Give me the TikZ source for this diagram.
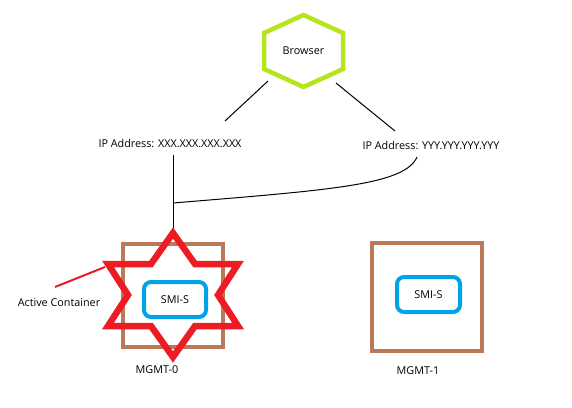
\documentclass[tikz,border=0pt]{standalone}
\usepackage{fontspec}
\setmainfont{Open Sans}
\usepackage{xcolor}
\usepackage{tikz}
\usetikzlibrary{calc, positioning}

\definecolor{BrowserGreen}{HTML}{B5E61D}
\definecolor{StarRed}{HTML}{ED1C24}
\definecolor{BoxBrown}{HTML}{B97A57}
\definecolor{SmiBlue}{HTML}{00A2E8}

\begin{document}
\begin{tikzpicture}[x=1pt, y=-1pt,
        every node/.style={font=\fontsize{10.8}{12}\selectfont, inner sep=0pt},
        mgmtbox/.style={draw=BoxBrown, line width=4.3pt},
        smibox/.style={draw=SmiBlue, line width=4pt, rounded corners=7pt, minimum width=62pt, minimum height=35pt}]

            \useasboundingbox (0,0) rectangle (572,407);

            % browser
            \draw[BrowserGreen, line width=4.5pt] (303.5,15) -- (343,33) -- (343,69) -- (303.5,87) -- (264,69) -- (264,33) -- cycle;
            \node (browser) at (303.5,51) {Browser};

            \node (ipx) at (170,143) {IP Address: XXX.XXX.XXX.XXX};
            \node (ipy) at (431,145) {IP Address: YYY.YYY.YYY.YYY};

            \coordinate (bl) at (268,81);
            \coordinate (br) at (336,83);
            \coordinate (ipxtop) at (225,121);
            \coordinate (ipytop) at (395,131);
            \draw[line width=1pt] (bl) -- (ipxtop);
            \draw[line width=1pt] (br) -- (ipytop);

            % active container
            \node[mgmtbox, minimum width=100pt, minimum height=103pt] (box0) at (173,295.5) {};
            \node[smibox] (smi0) at (175,299.5) {SMI-S};
            \node (mgmt0) at (157,370) {MGMT-0};

            \draw[StarRed, line width=6.5pt, line join=miter]
                (173,233) -- (195,264) -- (238,264) -- (218,295) -- (238,326) -- (195,326)
                -- (173,357) -- (151,326) -- (108,326) -- (128,295) -- (108,264) -- (151,264) -- cycle;
            \coordinate (startop) at (173,228);

            \coordinate (ipxbot) at (173,155);
            \coordinate (joint) at (173,203);
            \coordinate (ipybot) at (417,157);
            \draw[line width=1pt] (ipxbot) -- (startop);
            \draw[line width=1pt] (joint) .. controls (330,190) and (405,185) .. (ipybot);

            \node (active) at (59,303) {Active Container};
            \coordinate (activetop) at (55,287);
            \coordinate (starleft) at (105,267);
            \draw[StarRed, line width=2pt] (activetop) -- (starleft);

            % standby
            \node[mgmtbox, minimum width=110pt, minimum height=108pt] (box1) at (427,297) {};
            \node[smibox, minimum width=63pt] (smi1) at (428.5,294.5) {SMI-S};
            \node (mgmt1) at (418,371) {MGMT-1};

\end{tikzpicture}
\end{document}
